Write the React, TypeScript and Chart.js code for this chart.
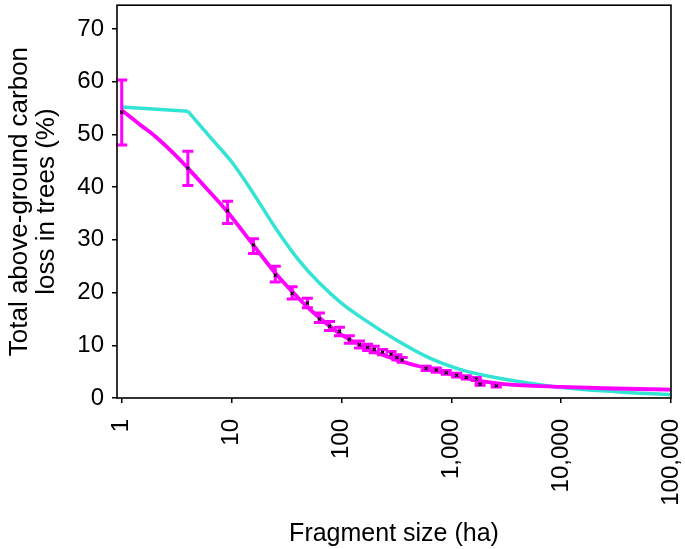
import React, { useEffect, useRef } from 'react';
import { Chart, registerables } from 'chart.js';

Chart.register(...registerables);

const MAGENTA = '#FF00FF';
const CYAN = '#33E3D3';
const FONT = "'Liberation Sans', Arial, Helvetica, sans-serif";

// Axis ticks
const xTickValues = [1, 10, 100, 1000, 10000, 100000];
const xTickLabels = ['1', '10', '100', '1,000', '10,000', '100,000'];
const yTickValues = [0, 10, 20, 30, 40, 50, 60, 70];

// Observed points (fragment size, carbon loss %) with error limits
const obsX = [1, 4, 9.2, 15.8, 25, 35.6, 49, 63, 78, 96, 118, 146, 173, 199, 237, 283, 320, 357, 590, 730, 900, 1120, 1370, 1690, 1830, 2570];
const obsY = [54.2, 43.6, 35.5, 29.0, 23.3, 19.8, 18.0, 15.0, 13.6, 12.6, 11.1, 10.1, 9.6, 9.2, 8.7, 8.3, 7.7, 7.2, 5.6, 5.3, 4.8, 4.3, 3.9, 3.6, 2.6, 2.3];
const obsLow = [48.0, 40.3, 33.1, 27.4, 22.0, 18.8, 17.1, 14.3, 12.8, 11.8, 10.4, 9.5, 9.0, 8.6, 8.2, 7.8, 7.2, 6.8, 5.2, 4.9, 4.5, 4.0, 3.6, 3.3, 2.4, 2.1];
const obsHigh = [60.3, 46.8, 37.3, 30.2, 25.0, 21.1, 18.9, 16.1, 14.5, 13.4, 11.8, 10.8, 10.2, 9.8, 9.2, 8.8, 8.2, 7.7, 6.0, 5.7, 5.2, 4.7, 4.2, 3.9, 2.8, 2.5];

// Fitted curve (magenta)
const fitX = [1, 1.5, 2, 3, 4, 6, 9, 15, 25, 40, 60, 100, 150, 250, 400, 675, 1000, 1500, 2000, 3000, 5000, 10000, 30000, 100000];
const fitY = [54.6, 51.7, 49.7, 46.3, 43.6, 39.6, 35.5, 29.6, 23.7, 19.1, 15.6, 12.0, 10.0, 8.0, 6.6, 5.4, 4.5, 3.6, 3.1, 2.65, 2.35, 2.1, 1.8, 1.6];

// Comparison curve (cyan)
const cyanX = [1, 4, 6.3, 10, 15.8, 25, 40, 63, 100, 158, 316, 631, 1259, 2512, 5012, 10000, 31623, 100000];
const cyanY = [55.2, 54.4, 49.6, 44.8, 38.8, 32.3, 26.4, 21.8, 18.0, 15.0, 11.0, 7.6, 5.3, 3.9, 2.85, 2.0, 1.2, 0.6];

const pts = (xs: number[], ys: number[]) => xs.map((x, i) => ({ x, y: ys[i] }));

const errorBarPlugin = {
  id: 'errorBars',
  afterDatasetDraw(chart: any, args: any) {
    if (args.index !== 1) return;
    const { ctx } = chart;
    const xs = chart.scales.x;
    const ys = chart.scales.y;
    ctx.save();
    ctx.strokeStyle = MAGENTA;
    ctx.lineWidth = 3;
    ctx.lineCap = 'butt';
    const cap = 5.5;
    for (let i = 0; i < obsX.length; i++) {
      const px = xs.getPixelForValue(obsX[i]);
      const pt = ys.getPixelForValue(obsHigh[i]);
      const pb = ys.getPixelForValue(obsLow[i]);
      ctx.beginPath();
      ctx.moveTo(px, pt);
      ctx.lineTo(px, pb);
      ctx.moveTo(px - cap, pt);
      ctx.lineTo(px + cap, pt);
      ctx.moveTo(px - cap, pb);
      ctx.lineTo(px + cap, pb);
      ctx.stroke();
    }
    ctx.restore();
  },
  afterDraw(chart: any) {
    const { ctx, chartArea } = chart;
    ctx.save();
    ctx.strokeStyle = '#000';
    ctx.lineWidth = 1.6;
    ctx.strokeRect(chartArea.left, chartArea.top, chartArea.right - chartArea.left, chartArea.bottom - chartArea.top);
    ctx.restore();
  },
};

const zeroPad = (s: any) => {
  s.paddingTop = 0;
  s.paddingBottom = 0;
  s.paddingLeft = 0;
  s.paddingRight = 0;
};

export default function App() {
  const ref = useRef<HTMLCanvasElement | null>(null);

  useEffect(() => {
    if (!ref.current) return;
    const chart = new Chart(ref.current, {
      type: 'scatter',
      data: {
        datasets: [
          {
            label: 'observed',
            data: pts(obsX, obsY),
            showLine: false,
            pointStyle: 'crossRot',
            pointRadius: 2.2,
            pointBorderWidth: 1.2,
            pointBorderColor: '#000',
            pointBackgroundColor: '#000',
          },
          {
            label: 'fit',
            data: pts(fitX, fitY),
            showLine: true,
            borderColor: MAGENTA,
            borderWidth: 3.8,
            pointRadius: 0,
            cubicInterpolationMode: 'monotone',
          },
          {
            label: 'cyan-head',
            data: pts(cyanX.slice(0, 2), cyanY.slice(0, 2)),
            showLine: true,
            borderColor: CYAN,
            borderWidth: 3.5,
            pointRadius: 0,
            tension: 0,
          },
          {
            label: 'cyan-tail',
            data: pts(cyanX.slice(1), cyanY.slice(1)),
            showLine: true,
            borderColor: CYAN,
            borderWidth: 3.5,
            pointRadius: 0,
            cubicInterpolationMode: 'monotone',
          },
        ],
      },
      options: {
        animation: false,
        responsive: false,
        events: [],
        layout: { padding: { left: 0, top: 1, right: 14, bottom: 0 } },
        plugins: { legend: { display: false }, tooltip: { enabled: false } },
        scales: {
          x: {
            type: 'logarithmic',
            position: 'bottom',
            min: 0.906,
            max: 100000,
            afterBuildTicks: (s: any) => {
              s.ticks = xTickValues.map((v) => ({ value: v }));
            },
            afterFit: (s: any) => {
              s.height = 151;
              zeroPad(s);
            },
            ticks: {
              autoSkip: false,
              minRotation: 90,
              maxRotation: 90,
              padding: 16,
              color: '#000',
              font: { family: FONT, size: 24 },
              callback: (v: any) => xTickLabels[xTickValues.indexOf(Number(v))] ?? '',
            },
            grid: { display: true, drawOnChartArea: false, drawTicks: true, tickLength: 5, color: '#000', lineWidth: 1.5 },
            border: { display: false },
            title: {
              display: true,
              text: 'Fragment size (ha)',
              color: '#000',
              font: { family: FONT, size: 25 },
              padding: { top: 0, bottom: 0 },
            },
          },
          y: {
            type: 'linear',
            min: 0,
            max: 74.5,
            afterBuildTicks: (s: any) => {
              s.ticks = yTickValues.map((v) => ({ value: v }));
            },
            afterFit: (s: any) => {
              s.width = 117;
              zeroPad(s);
            },
            ticks: {
              padding: 8,
              color: '#000',
              font: { family: FONT, size: 24 },
              callback: (v: any) => String(v),
            },
            grid: { display: true, drawOnChartArea: false, drawTicks: true, tickLength: 5, color: '#000', lineWidth: 1.5 },
            border: { display: false },
            title: {
              display: true,
              text: ['Total above-ground carbon', 'loss in trees (%)'],
              color: '#000',
              font: { family: FONT, size: 26, lineHeight: 1.05 },
              padding: { top: 6, bottom: 0 },
            },
          },
        },
      },
      plugins: [errorBarPlugin],
    } as any);
    return () => chart.destroy();
  }, []);

  return (
    <div style={{ position: 'absolute', left: 0, top: 0, width: 685, height: 549, background: '#fff' }}>
      <canvas ref={ref} width={685} height={549} style={{ display: 'block' }} />
    </div>
  );
}
